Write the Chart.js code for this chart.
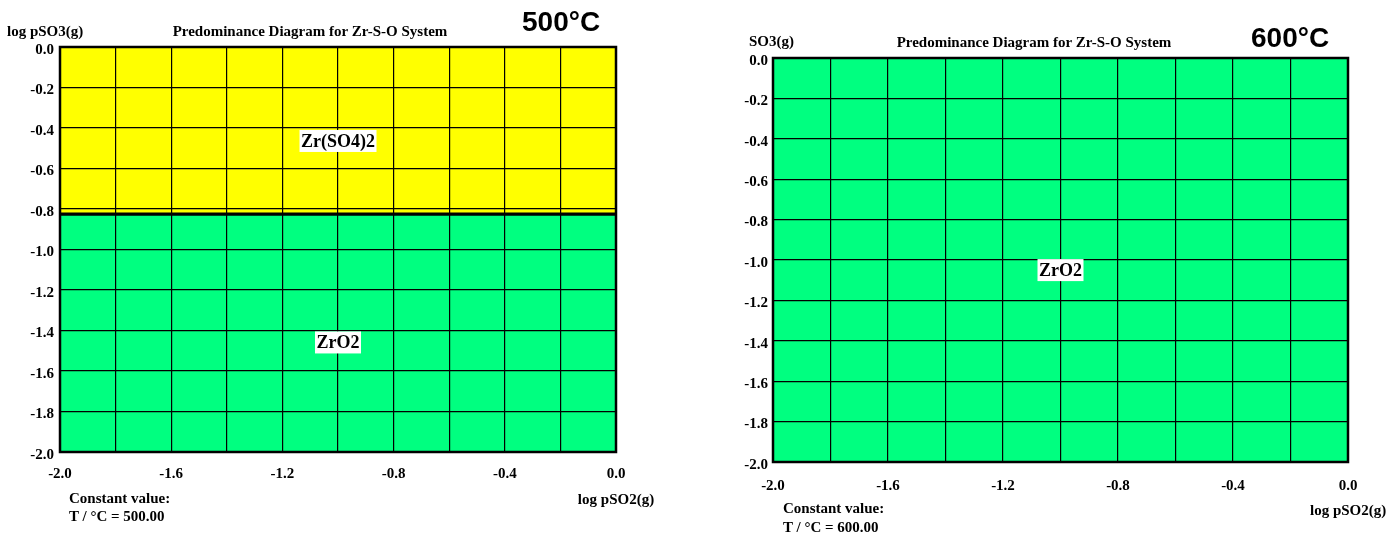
<!DOCTYPE html>
<html>
<head>
<meta charset="utf-8">
<script src="https://cdn.jsdelivr.net/npm/chart.js@4/dist/chart.umd.min.js"></script>
<style>
  body { margin: 0; background: #fff; width: 1396px; height: 535px; position: relative; overflow: hidden; }
  .panel { position: absolute; top: 0; width: 698px; height: 535px; }
  .txt { position: absolute; font: bold 15px "Liberation Serif", "Times New Roman", serif; line-height: 18px; white-space: nowrap; color: #000; }
  .temp { position: absolute; font: bold 28px "Liberation Sans", Arial, sans-serif; line-height: 32px; white-space: nowrap; color: #000; }
  .center { transform: translateX(-50%); }
</style>
</head>
<body>
<div class="panel" style="left:0"><canvas id="c500" width="698" height="535"></canvas></div>
<div class="panel" style="left:698px"><canvas id="c600" width="698" height="535"></canvas></div>

<div class="txt" style="left:7px;top:22px">log pSO3(g)</div>
<div class="txt center" style="left:310px;top:22px">Predominance Diagram for Zr-S-O System</div>
<div class="temp" style="left:522px;top:6px">500°C</div>
<div class="txt" style="left:69px;top:489px">Constant value:</div>
<div class="txt" style="left:69px;top:507px">T / °C = 500.00</div>
<div class="txt center" style="left:616px;top:490px">log pSO2(g)</div>

<div class="txt" style="left:749px;top:32px">SO3(g)</div>
<div class="txt center" style="left:1034px;top:33px">Predominance Diagram for Zr-S-O System</div>
<div class="temp" style="left:1251px;top:22px">600°C</div>
<div class="txt" style="left:783px;top:499px">Constant value:</div>
<div class="txt" style="left:783px;top:518px">T / °C = 600.00</div>
<div class="txt" style="left:1310px;top:501px">log pSO2(g)</div>

<script>
// axis ranges (log pSO2 on x, log pSO3 on y)
const xRange = [-2.0, 0.0];
const yRange = [-2.0, 0.0];
const gridStep = 0.2;

// 500 °C: Zr(SO4)2 / ZrO2 boundary (horizontal line)
const boundaryX500 = [-2.0, 0.0];
const boundaryY500 = [-0.825, -0.825];
const regionNames500 = ['Zr(SO4)2', 'ZrO2'];
const regionColors500 = ['#ffff00', '#00ff80'];
const labelX500 = [-1.0, -1.0];
const labelY500 = [-0.464, -1.459];

// 600 °C: only ZrO2 over the whole range
const boundaryX600 = [-2.0, 0.0];
const boundaryY600 = [0.0, 0.0];
const regionNames600 = ['ZrO2'];
const regionColors600 = ['#00ff80'];
const labelX600 = [-1.0];
const labelY600 = [-1.05];

const tickFont = { family: '"Liberation Serif", "Times New Roman", serif', size: 15, weight: 'bold' };

function fmt(v) {
  if (Math.abs(v) < 1e-9) return '0.0';
  return v.toFixed(1);
}

// plot frame and region names (drawn last so they sit over the grid)
const framePlugin = {
  id: 'frame',
  afterDraw(chart, args, opts) {
    const { ctx, chartArea: a, scales } = chart;
    ctx.save();
    ctx.strokeStyle = '#000';
    ctx.lineWidth = 2.5;
    ctx.strokeRect(a.left, a.top, a.right - a.left, a.bottom - a.top);
    ctx.font = 'bold 18px "Liberation Serif", "Times New Roman", serif';
    ctx.textAlign = 'center';
    ctx.textBaseline = 'middle';
    opts.names.forEach((name, i) => {
      const x = scales.x.getPixelForValue(opts.lx[i]);
      const y = scales.y.getPixelForValue(opts.ly[i]);
      const w = ctx.measureText(name).width + 3;
      ctx.fillStyle = '#fff';
      ctx.fillRect(x - w / 2, y - 11, w, 22);
      ctx.fillStyle = '#000';
      ctx.fillText(name, x, y + 1);
    });
    ctx.restore();
  }
};

function makeChart(id, cfg) {
  const pts = cfg.bx.map((x, i) => ({ x, y: cfg.by[i] }));
  const datasets = [];
  if (cfg.names.length === 2) {
    datasets.push({ label: cfg.names[0], data: pts, fill: 'end', backgroundColor: cfg.colors[0],
      borderColor: '#000', borderWidth: 3, pointRadius: 0 });
    datasets.push({ label: cfg.names[1], data: pts, fill: 'start', backgroundColor: cfg.colors[1],
      borderColor: '#000', borderWidth: 3, pointRadius: 0 });
  } else {
    datasets.push({ label: cfg.names[0], data: pts, fill: 'start', backgroundColor: cfg.colors[0],
      borderWidth: 0, pointRadius: 0 });
  }
  return new Chart(document.getElementById(id), {
    type: 'line',
    data: { datasets },
    plugins: [framePlugin],
    options: {
      responsive: false,
      animation: false,
      layout: { padding: cfg.pad },
      plugins: {
        legend: { display: false },
        tooltip: { enabled: false },
        frame: { names: cfg.names, lx: cfg.lx, ly: cfg.ly }
      },
      scales: {
        x: {
          type: 'linear', min: xRange[0], max: xRange[1],
          border: { display: false },
          grid: { color: '#000', lineWidth: 1.2, drawTicks: false, z: 1 },
          ticks: { stepSize: gridStep, autoSkip: false, maxRotation: 0, padding: cfg.xPad,
            color: '#000', font: tickFont,
            callback: (v, i) => (i % 2 === 0 ? fmt(v) : '') },
          afterFit: s => { s.height = 40; }
        },
        y: {
          type: 'linear', min: yRange[0], max: yRange[1],
          border: { display: false },
          grid: { color: '#000', lineWidth: 1.2, drawTicks: false, z: 1 },
          ticks: { stepSize: gridStep, autoSkip: false, padding: cfg.yPad, labelOffset: 3,
            color: '#000', font: tickFont, callback: v => fmt(v) },
          afterFit: s => { s.width = cfg.yWidth; }
        }
      }
    }
  });
}

makeChart('c500', {
  bx: boundaryX500, by: boundaryY500, names: regionNames500, colors: regionColors500,
  lx: labelX500, ly: labelY500,
  pad: { left: 0, top: 47, right: 82, bottom: 43 }, yWidth: 60, xPad: 13, yPad: 6
});

makeChart('c600', {
  bx: boundaryX600, by: boundaryY600, names: regionNames600, colors: regionColors600,
  lx: labelX600, ly: labelY600,
  pad: { left: 0, top: 58, right: 48, bottom: 33 }, yWidth: 75, xPad: 15, yPad: 5
});
</script>
</body>
</html>
